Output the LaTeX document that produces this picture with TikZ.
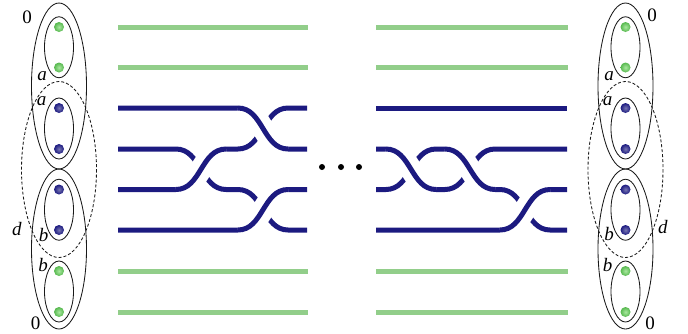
\documentclass[tikz,border=0pt]{standalone}
\usepackage{fontspec}
\setmainfont{Liberation Serif}
\definecolor{navy}{RGB}{28,26,128}
\definecolor{lgreen}{RGB}{146,206,138}
\definecolor{dgreen}{RGB}{86,184,78}
\definecolor{hgreen}{RGB}{170,232,160}
\begin{document}
\begin{tikzpicture}[x=1pt,y=-1pt,
  strand/.style={draw=navy,line width=5pt},
  halo/.style={draw=white,line width=22pt},
  gline/.style={draw=lgreen,line width=5pt},
  ell/.style={draw=black!90,line width=0.85pt},
  dashell/.style={ell,dash pattern=on 3pt off 2pt},
  lab/.style={font=\fontsize{19}{19}\selectfont,inner sep=0pt},
  gdot/.style={circle,minimum size=10pt,inner sep=0pt,inner color=hgreen,outer color=dgreen},
  bdot/.style={circle,minimum size=10pt,inner sep=0pt,inner color=navy!60!white,outer color=navy},
  kdot/.style={circle,fill=black,minimum size=6pt,inner sep=0pt}
]
\useasboundingbox (0,0) rectangle (688,333);

% ---------- green lines ----------
\foreach \yy in {27,67.5,271,312}{
  \draw[gline] (118,\yy) -- (308,\yy);
  \draw[gline] (376,\yy) -- (568,\yy);
}

% ---------- left braid ----------
\draw[strand] (118,108) -- (238,108) .. controls +(25,0) and +(-25,0) .. (288,149) -- (307,149);
\draw[strand] (118,149) -- (176,149) .. controls +(25,0) and +(-25,0) .. (226,189.5) -- (238,189.5)
   .. controls +(25,0) and +(-25,0) .. (288,230) -- (307,230);
\draw[strand] (118,189.5) -- (176,189.5) .. controls +(25,0) and +(-25,0) .. (226,149) -- (238,149)
   .. controls +(25,0) and +(-25,0) .. (288,108) -- (307,108);
\draw[strand] (118,230) -- (238,230) .. controls +(25,0) and +(-25,0) .. (288,189.5) -- (307,189.5);
% over crossings
\draw[halo] (176,189.5) .. controls +(25,0) and +(-25,0) .. (226,149);
\draw[strand] (176,189.5) .. controls +(25,0) and +(-25,0) .. (226,149);
\draw[halo] (238,108) .. controls +(25,0) and +(-25,0) .. (288,149);
\draw[strand] (238,108) .. controls +(25,0) and +(-25,0) .. (288,149);
\draw[halo] (238,230) .. controls +(25,0) and +(-25,0) .. (288,189.5);
\draw[strand] (238,230) .. controls +(25,0) and +(-25,0) .. (288,189.5);

% ---------- dots ----------
\node[kdot] (k1) at (322,167) {};
\node[kdot] (k2) at (341,167) {};
\node[kdot] (k3) at (359,167) {};

% ---------- right braid ----------
\draw[strand] (376,108) -- (567,108);
\draw[strand] (376,149) -- (386,149) .. controls +(25,0) and +(-25,0) .. (436,189.5) -- (445,189.5)
   .. controls +(25,0) and +(-25,0) .. (495,149) -- (567,149);
\draw[strand] (376,189.5) -- (386,189.5) .. controls +(25,0) and +(-25,0) .. (436,149) -- (445,149)
   .. controls +(25,0) and +(-25,0) .. (495,189.5) -- (500,189.5)
   .. controls +(25,0) and +(-25,0) .. (550,230) -- (567,230);
\draw[strand] (376,230) -- (500,230) .. controls +(25,0) and +(-25,0) .. (550,189.5) -- (567,189.5);
\draw[halo] (386,149) .. controls +(25,0) and +(-25,0) .. (436,189.5);
\draw[strand] (386,149) .. controls +(25,0) and +(-25,0) .. (436,189.5);
\draw[halo] (445,149) .. controls +(25,0) and +(-25,0) .. (495,189.5);
\draw[strand] (445,149) .. controls +(25,0) and +(-25,0) .. (495,189.5);
\draw[halo] (500,230) .. controls +(25,0) and +(-25,0) .. (550,189.5);
\draw[strand] (500,230) .. controls +(25,0) and +(-25,0) .. (550,189.5);

% ---------- ellipses ----------
\foreach \cx in {59,625.5}{
  \draw[ell] (\cx,47.25) ellipse [x radius=14.5, y radius=30.5];
  \draw[ell] (\cx,128.5) ellipse [x radius=14.5, y radius=30.5];
  \draw[ell] (\cx,209.75) ellipse [x radius=14.5, y radius=30.5];
  \draw[ell] (\cx,291.5) ellipse [x radius=14.5, y radius=30.5];
  \draw[ell] (\cx,86) ellipse [x radius=27.5, y radius=83];
  \draw[ell] (\cx,249) ellipse [x radius=27.5, y radius=80];
  \draw[dashell] (\cx,169.5) ellipse [x radius=37.5, y radius=88];
}
\node[gdot] (l1) at (59,27) {};
\node[gdot] (l2) at (59,67.5) {};
\node[bdot] (l3) at (59,108) {};
\node[bdot] (l4) at (59,149) {};
\node[bdot] (l5) at (59,189.5) {};
\node[bdot] (l6) at (59,230) {};
\node[gdot] (l7) at (59,271) {};
\node[gdot] (l8) at (59,312) {};
\node[gdot] (r1) at (625.5,27) {};
\node[gdot] (r2) at (625.5,67.5) {};
\node[bdot] (r3) at (625.5,108) {};
\node[bdot] (r4) at (625.5,149) {};
\node[bdot] (r5) at (625.5,189.5) {};
\node[bdot] (r6) at (625.5,230) {};
\node[gdot] (r7) at (625.5,271) {};
\node[gdot] (r8) at (625.5,312) {};

% ---------- labels ----------
\node[lab] (t0l) at (27,17.5) {0};
\node[lab] (tal1) at (42,76) {\textit{a}};
\node[lab] (tal2) at (41.5,101.5) {\textit{a}};
\node[lab] (tdl) at (17,229) {\textit{d}};
\node[lab] (tbl1) at (43.5,235) {\textit{b}};
\node[lab] (tbl2) at (43,265) {\textit{b}};
\node[lab] (b0l) at (35.5,323) {0};
\node[lab] (t0r) at (652,15.5) {0};
\node[lab] (tar1) at (609,76) {\textit{a}};
\node[lab] (tar2) at (607.5,101) {\textit{a}};
\node[lab] (tdr) at (663,227) {\textit{d}};
\node[lab] (tbr1) at (609,234) {\textit{b}};
\node[lab] (tbr2) at (607.5,265) {\textit{b}};
\node[lab] (b0r) at (650,323) {0};
\end{tikzpicture}
\end{document}
